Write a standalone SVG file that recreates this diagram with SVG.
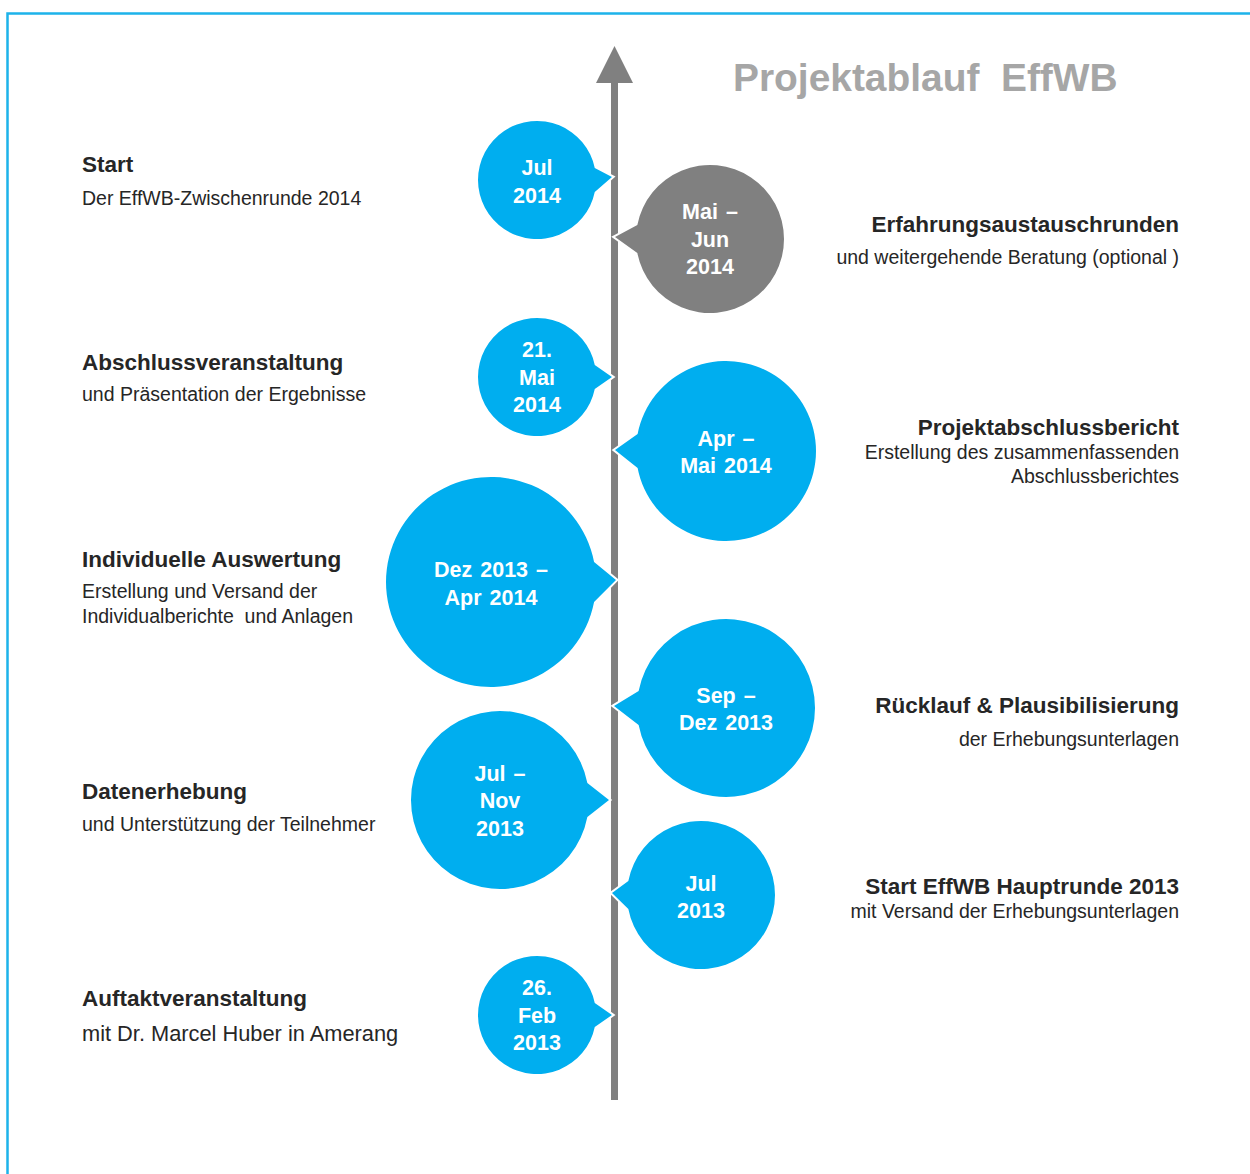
<svg xmlns="http://www.w3.org/2000/svg" width="1250" height="1174" viewBox="0 0 1250 1174">
<style>
.frame{fill:none;stroke:#1DB3EA;stroke-width:2.5}
.axis{fill:#808080}
.bb{fill:#00AEEF;stroke:#fff;stroke-width:4;stroke-linejoin:miter;paint-order:stroke}
.bg{fill:#808080;stroke:#fff;stroke-width:4;stroke-linejoin:miter;paint-order:stroke}
.bt{font-family:"Liberation Sans",Arial,sans-serif;font-weight:bold;font-size:21.5px;fill:#fff;text-anchor:middle;word-spacing:2px}
.h{font-family:"Liberation Sans",Arial,sans-serif;font-weight:bold;font-size:22.5px;fill:#262626}
.s{font-family:"Liberation Sans",Arial,sans-serif;font-size:19.5px;fill:#262626}
.big{font-size:21.8px}
.r{text-anchor:end}
.title{font-family:"Liberation Sans",Arial,sans-serif;font-weight:bold;font-size:38.9px;fill:#A6A6A6;white-space:pre}
</style>
<rect width="1250" height="1174" fill="#fff"/>
<path class="frame" d="M7.5,1174 V13.5 H1250"/>
<text class="title" x="733" y="91" xml:space="preserve">Projektablauf  EffWB</text>
<g id="connectors">
<rect class="axis" x="611" y="80" width="7" height="1020"/>
<polygon class="axis" points="614.5,46 596,83 633,83"/>
</g>
<g id="b-jul2014">
<path class="bb" d="M594.77,168 L612,177 L594.77,192 A59,59 0 1 1 594.77,168 Z"/>
<text class="bt" x="537" y="175">Jul</text><text class="bt" x="537" y="203">2014</text>
</g>
<g id="b-maijun2014">
<path class="bg" d="M637.34,253 L615,237 L637.34,225 A74,74 0 1 1 637.34,253 Z"/>
<text class="bt" x="710" y="219">Mai –</text><text class="bt" x="710" y="247">Jun</text><text class="bt" x="710" y="274">2014</text>
</g>
<g id="b-21mai2014">
<path class="bb" d="M594.77,365 L612,377 L594.77,389 A59,59 0 1 1 594.77,365 Z"/>
<text class="bt" x="537" y="357">21.</text><text class="bt" x="537" y="385">Mai</text><text class="bt" x="537" y="412">2014</text>
</g>
<g id="b-aprmai2014">
<path class="bb" d="M637.62,468 L615,450 L637.62,434 A90,90 0 1 1 637.62,468 Z"/>
<text class="bt" x="726" y="446">Apr –</text><text class="bt" x="726" y="473">Mai 2014</text>
</g>
<g id="b-dez2013apr2014">
<path class="bb" d="M594.08,562 L616,580 L594.08,602 A105,105 0 1 1 594.08,562 Z"/>
<text class="bt" x="491" y="577">Dez 2013 –</text><text class="bt" x="491" y="605">Apr 2014</text>
</g>
<g id="b-sepdez2013">
<path class="bb" d="M638.64,725 L614,706 L638.64,691 A89,89 0 1 1 638.64,725 Z"/>
<text class="bt" x="726" y="703">Sep –</text><text class="bt" x="726" y="730">Dez 2013</text>
</g>
<g id="b-julnov2013">
<path class="bb" d="M587.36,783 L609,800 L587.36,817 A89,89 0 1 1 587.36,783 Z"/>
<text class="bt" x="500" y="781">Jul –</text><text class="bt" x="500" y="808">Nov</text><text class="bt" x="500" y="836">2013</text>
</g>
<g id="b-jul2013">
<path class="bb" d="M628.34,909 L612,893 L628.34,881 A74,74 0 1 1 628.34,909 Z"/>
<text class="bt" x="701" y="891">Jul</text><text class="bt" x="701" y="918">2013</text>
</g>
<g id="b-26feb2013">
<path class="bb" d="M594.77,1003 L612,1015 L594.77,1027 A59,59 0 1 1 594.77,1003 Z"/>
<text class="bt" x="537" y="995">26.</text><text class="bt" x="537" y="1023">Feb</text><text class="bt" x="537" y="1050">2013</text>
</g>
<g id="l-start">
<text class="h" x="82" y="172">Start</text>
<text class="s" x="82" y="205">Der EffWB-Zwischenrunde 2014</text>
</g>
<g id="l-abschluss">
<text class="h" x="82" y="370">Abschlussveranstaltung</text>
<text class="s" x="82" y="401">und Präsentation der Ergebnisse</text>
</g>
<g id="l-auswertung">
<text class="h" x="82" y="567">Individuelle Auswertung</text>
<text class="s" x="82" y="598">Erstellung und Versand der</text>
<text class="s" x="82" y="623" xml:space="preserve">Individualberichte  und Anlagen</text>
</g>
<g id="l-datenerhebung">
<text class="h" x="82" y="799">Datenerhebung</text>
<text class="s" x="82" y="831">und Unterstützung der Teilnehmer</text>
</g>
<g id="l-auftakt">
<text class="h" x="82" y="1006">Auftaktveranstaltung</text>
<text class="s big" x="82" y="1041">mit Dr. Marcel Huber in Amerang</text>
</g>
<g id="r-erfahrung">
<text class="h r" x="1179" y="232">Erfahrungsaustauschrunden</text>
<text class="s r" x="1179" y="264">und weitergehende Beratung (optional )</text>
</g>
<g id="r-bericht">
<text class="h r" x="1179" y="435">Projektabschlussbericht</text>
<text class="s r" x="1179" y="459">Erstellung des zusammenfassenden</text>
<text class="s r" x="1179" y="483">Abschlussberichtes</text>
</g>
<g id="r-ruecklauf">
<text class="h r" x="1179" y="713">Rücklauf &amp; Plausibilisierung</text>
<text class="s r" x="1179" y="746">der Erhebungsunterlagen</text>
</g>
<g id="r-hauptrunde">
<text class="h r" x="1179" y="894">Start EffWB Hauptrunde 2013</text>
<text class="s r" x="1179" y="918">mit Versand der Erhebungsunterlagen</text>
</g>
</svg>
